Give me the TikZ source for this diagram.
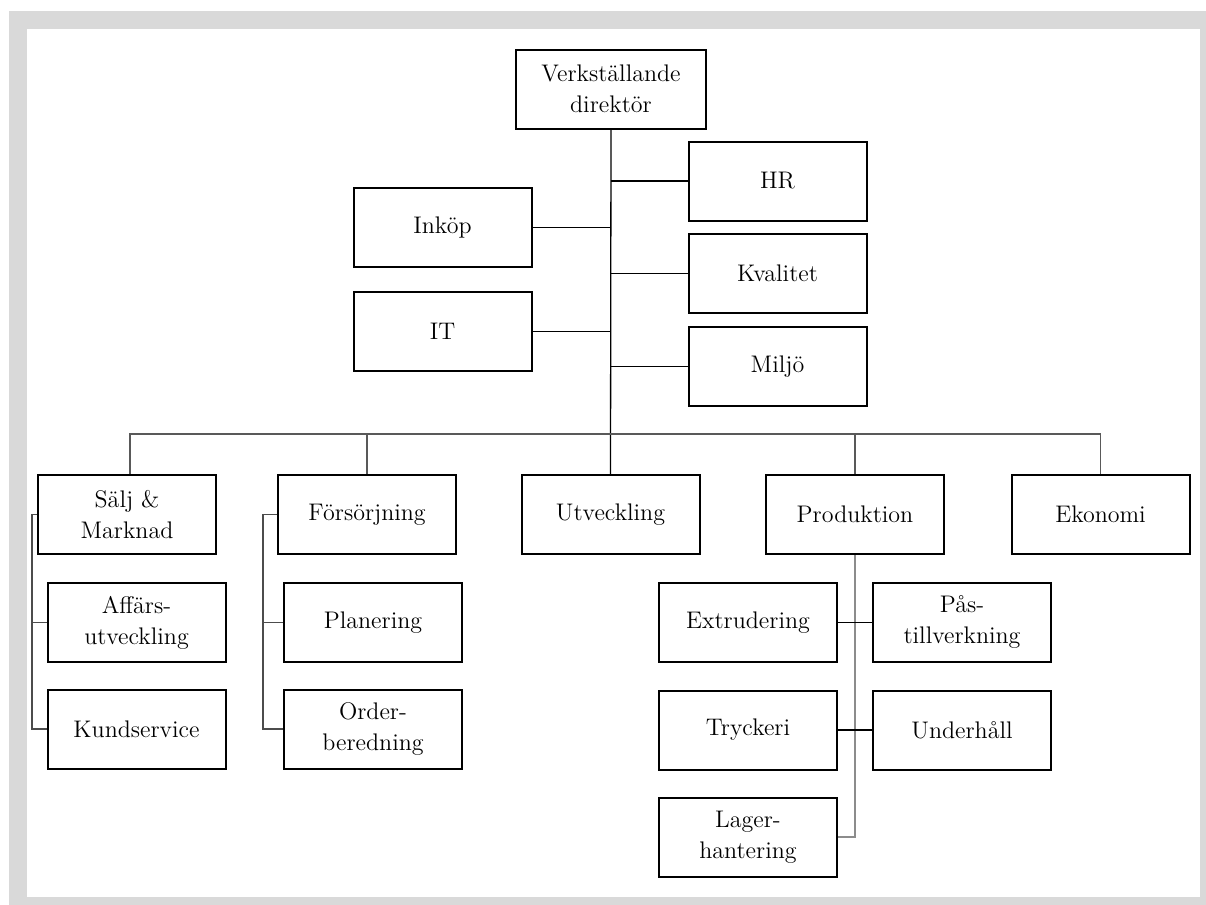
\documentclass[tikz,border=0pt]{standalone}
\usepackage{fontspec}
\setmainfont{Latin Modern Roman}
\definecolor{framegray}{HTML}{D9D9D9}
\begin{document}
\begin{tikzpicture}[x=0.5pt,y=-0.5pt,
  unit/.style={draw=black,line width=1pt,fill=white,align=center,inner sep=0pt,
    minimum height=39.5pt,font=\fontsize{12}{15.5}\selectfont},
  wide/.style={unit,minimum width=95pt},
  std/.style={unit,minimum width=89pt},
  link/.style={line width=0.65pt,draw=black},
  buslink/.style={line width=0.65pt,draw=black!65},
  sublink/.style={line width=0.65pt,draw=black!70},
  prodlink/.style={line width=0.65pt,draw=black!45}]
\useasboundingbox (0,0) rectangle (1206,905);
% page frame
\fill[white] (0,0) rectangle (1206,905);
\fill[framegray] (9,11) rectangle (1206,905);
\fill[white] (27,29) rectangle (1200,897);

% top level
\node[wide] (vd) at (611,89) {Verkställande\\direktör};
\node[std] (hr) at (777.5,181) {HR};
\node[std] (kval) at (777.5,273.5) {Kvalitet};
\node[std] (milj) at (777.5,366.5) {Miljö};
\node[std] (inkop) at (442.5,227.5) {Inköp};
\node[std] (it) at (442.5,331.5) {IT};

% departments
\node[std] (salj) at (127,514.5) {Sälj \&\\Marknad};
\node[std] (fors) at (367,514.5) {Försörjning};
\node[std] (utv) at (610.5,514.5) {Utveckling};
\node[std] (prod) at (855,514.5) {Produktion};
\node[std] (eko) at (1100.5,514.5) {Ekonomi};

% sub units
\node[std] (aff) at (136.5,622.5) {Affärs-\\utveckling};
\node[std] (kund) at (136.5,729) {Kundservice};
\node[std] (plan) at (373,622.5) {Planering};
\node[std] (order) at (373,729) {Order-\\beredning};
\node[std] (extr) at (748,622.5) {Extrudering};
\node[std] (pas) at (962,622.5) {Pås-\\tillverkning};
\node[std] (tryck) at (748,730) {Tryckeri};
\node[std] (under) at (962,730) {Underhåll};
\node[std] (lager) at (748,837) {Lager-\\hantering};

% connectors
\coordinate (bus) at (611,434);
\coordinate (sx) at (32,0);
\coordinate (fx) at (263,0);
\coordinate (sd) at (130,0);
\draw[link] (vd.south) -- (utv.north);
\foreach \n in {hr,kval,milj,inkop,it}{
  \draw[link] (\n) -- (\n -| vd.south);
}
\draw[buslink] (salj.north -| sd) -- (sd |- bus) -- (eko.north |- bus) -- (eko.north);
\draw[buslink] (fors.north) -- (fors.north |- bus);
\draw[buslink] (prod.north) -- (prod.north |- bus);
\draw[sublink] (salj.west) -- (salj.west -| sx) |- (kund.west);
\draw[sublink] (aff.west) -- (aff.west -| sx);
\draw[sublink] (fors.west) -- (fors.west -| fx) |- (order.west);
\draw[sublink] (plan.west) -- (plan.west -| fx);
\draw[prodlink] (prod.south) |- (lager.east);
\draw[link] (extr.east) -- (pas.west);
\draw[link] (tryck.east) -- (under.west);
\end{tikzpicture}
\end{document}
